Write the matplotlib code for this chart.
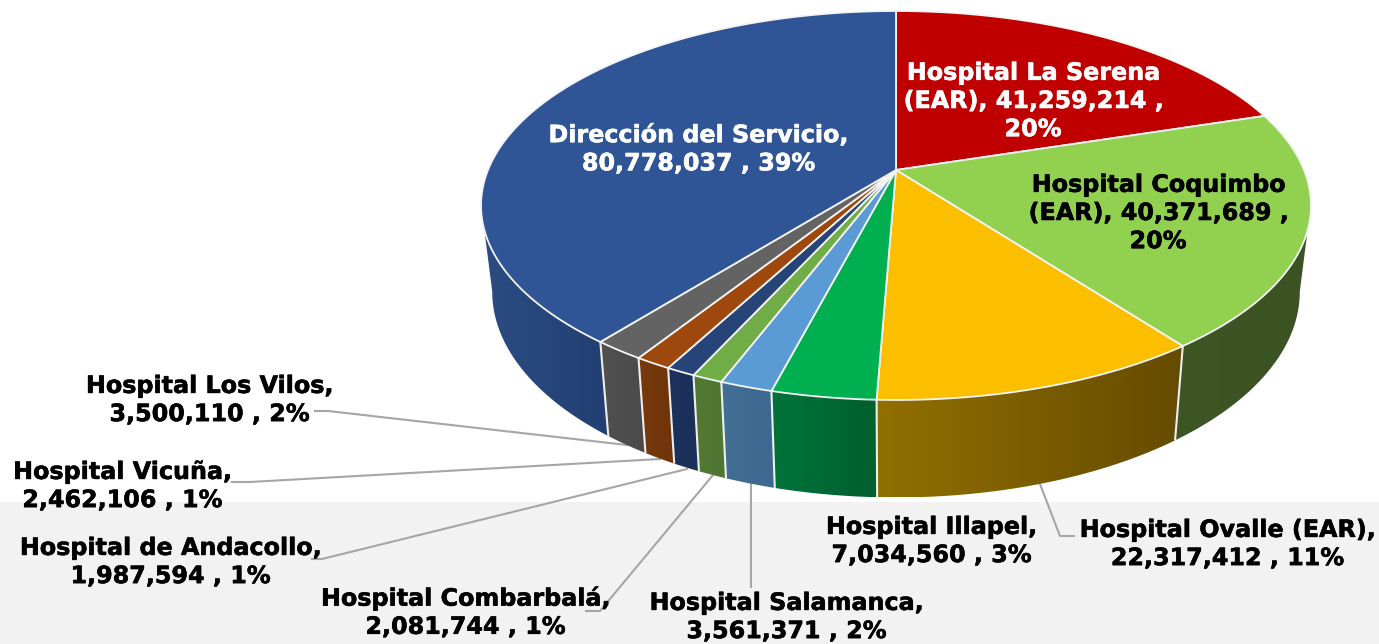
import numpy as np
import matplotlib
matplotlib.use("Agg")
import matplotlib.pyplot as plt
import matplotlib.patheffects as pe
from matplotlib.patches import Polygon
from matplotlib.colors import to_rgb

names = ["Hospital La Serena\n(EAR)", "Hospital Coquimbo\n(EAR)", "Hospital Ovalle (EAR)",
         "Hospital Illapel", "Hospital Salamanca", "Hospital Combarbalá",
         "Hospital de Andacollo", "Hospital Vicuña", "Hospital Los Vilos",
         "Dirección del Servicio"]
values = [41259214, 40371689, 22317412, 7034560, 3561371, 2081744, 1987594, 2462106, 3500110, 80778037]
top_colors = ["#c00000", "#92d050", "#fbbf00", "#00b050", "#5b9bd5", "#70ad47", "#264478", "#9e480e", "#636363", "#2f5597"]
wall_right = ["#8a0000", "#3b5322", "#654b00", "#005f2e", "#3d6890", "#4f7632", "#1b3059", "#71340a", "#4a4a4a", "#223f72"]
wall_left = ["#8a0000", "#3d5624", "#917000", "#00733a", "#436f95", "#527a34", "#1c315b", "#773a0c", "#515151", "#2c4c82"]
text_colors = ["white", "black", "black", "black", "black", "black", "black", "black", "black", "white"]
label_centers = [(1033, 101), (1158, 213), (1227, 544), (931, 541), (786, 617),
                 (465, 612), (170, 562), (122, 486), (209, 400), (698, 149)]
leaders = {2: [(1074, 536), (1060, 536), (1040, 484)],
           4: [(751, 587), (751, 484)],
           5: [(586, 611), (600, 611), (713, 475)],
           6: [(312, 559), (322, 559), (687, 469)],
           7: [(232, 482), (250, 482), (660, 459)],
           8: [(315, 411), (328, 411), (627, 445)]}

W, H = 1379, 644
fig = plt.figure(figsize=(W / 100, H / 100), dpi=100, facecolor="white")
ax = fig.add_axes([0, 0, 1, 1])
plt.rcParams["font.family"] = ["DejaVu Sans"]

ax.axhspan(502, H, color="#f2f2f2", lw=0, zorder=0)

CX = 896
K = 0.1825


def rim(theta, a, b, cy):
    s, c = np.sin(theta), np.cos(theta)
    d = 1 + K * c
    return np.column_stack([CX + a * s / d, cy - b * c / d])


def top_rim(t):
    return rim(t, 408, 188, 170)


def bot_rim(t):
    return rim(t, 397, 199, 254)


vals = np.array(values, dtype=float)
total = vals.sum()
edges = np.concatenate([[0], np.cumsum(vals)]) / total * 2 * np.pi

# walls: one horizontal gradient per slice, clipped to the slice's visible wall
for i in range(len(vals)):
    t = np.linspace(edges[i], edges[i + 1], 400)
    ta, tb = t[np.cos(t) <= -0.30], t[np.cos(t) <= -0.18]
    if len(ta) < 2:
        continue
    outline = np.vstack([top_rim(ta), bot_rim(tb)[::-1]])
    x0, x1 = outline[:, 0].min(), outline[:, 0].max()
    y0, y1 = outline[:, 1].min(), outline[:, 1].max()
    f = np.linspace(0, 1, 256)[None, :, None]
    grad = np.array(to_rgb(wall_left[i]))[None, None, :] * (1 - f) + np.array(to_rgb(wall_right[i]))[None, None, :] * f
    im = ax.imshow(grad, extent=(x0, x1, y1, y0), aspect="auto", interpolation="bilinear", zorder=2)
    patch = Polygon(outline, closed=True, transform=ax.transData, facecolor="none", edgecolor="none")
    ax.add_patch(patch)
    im.set_clip_path(patch)

ax.set_xlim(0, W)
ax.set_ylim(H, 0)
ax.axis("off")

# light seams between visible walls
for e in edges:
    if np.cos(e) < -0.3:
        p, q = top_rim(np.array([e]))[0], bot_rim(np.array([e]))[0]
        ax.plot([p[0], q[0]], [p[1], q[1]], color="#eeeeee", lw=1.5, zorder=3, solid_capstyle="butt")

# top face
for i in range(len(vals)):
    t = np.linspace(edges[i], edges[i + 1], 200)
    pts = np.vstack([[CX, 170], top_rim(t)])
    ax.fill(pts[:, 0], pts[:, 1], facecolor=top_colors[i], edgecolor="#f4f4f4", lw=1.3,
            joinstyle="round", zorder=4)

# leaders
for pts in leaders.values():
    p = np.array(pts)
    ax.plot(p[:, 0], p[:, 1], color="#a6a6a6", lw=1.5, zorder=1.5, solid_joinstyle="round")

# labels
for i, (n, v) in enumerate(zip(names, values)):
    pct = round(v / total * 100)
    if "\n" in n:
        s = f"{n}, {v:,} ,\n{pct}%"
    else:
        s = f"{n},\n{v:,} , {pct}%"
    ax.text(label_centers[i][0], label_centers[i][1], s, color=text_colors[i], ha="center", va="center",
            multialignment="center", fontsize=17.15, fontweight="bold", linespacing=1.22, zorder=6,
            path_effects=[pe.withStroke(linewidth=0.4, foreground=text_colors[i])])

fig.savefig("out.png", dpi=100)
